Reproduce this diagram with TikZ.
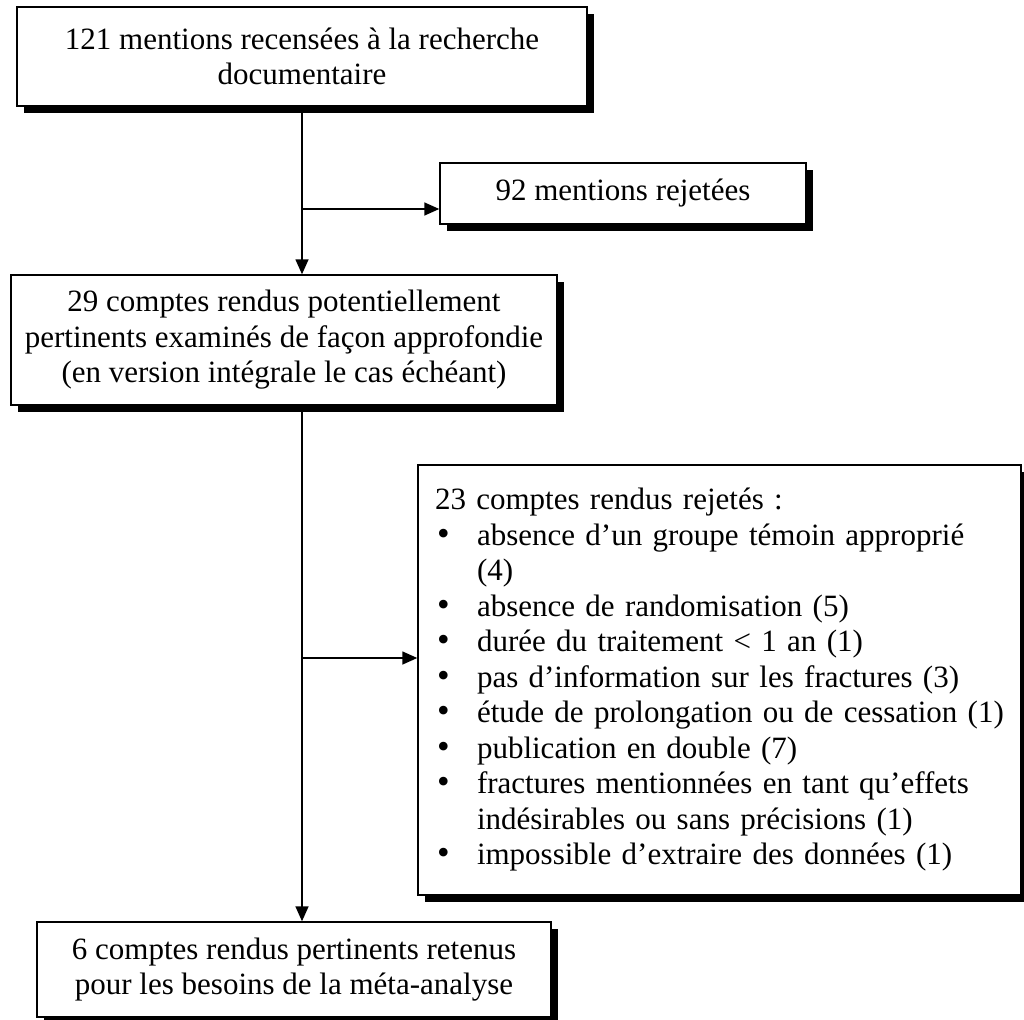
\documentclass[tikz,border=0pt]{standalone}
\usepackage{fontspec}
\setmainfont{Liberation Serif}
\usetikzlibrary{arrows.meta,shadows}
\newcommand{\bul}{\makebox[42pt][l]{\hspace{2pt}{\fontsize{36}{35.5}\selectfont\textbullet}}}
\newcommand{\hang}{\makebox[42pt][l]{}}
\begin{document}
\begin{tikzpicture}[x=1pt,y=-1pt,
  box/.style={draw=black,line width=1.4pt,fill=white,inner sep=0pt,
    drop shadow={shadow xshift=7pt,shadow yshift=-7pt,fill=black,opacity=1},
    font=\fontsize{31}{35.5}\selectfont,align=center},
  conn/.style={line width=1.5pt,-{Triangle[length=15pt,width=13pt]}}]
\useasboundingbox (0,0) rectangle (1024,1019);
\node[box,minimum width=570pt,minimum height=99pt] (b1) at (302,56.5)
  {121 mentions recensées à la recherche\\documentaire};
\node[box,minimum width=366pt,minimum height=61pt] (b2) at (623,193.5)
  {92 mentions rejetées};
\node[box,minimum width=546pt,minimum height=130pt] (b3) at (284,340)
  {29 comptes rendus potentiellement\\pertinents examinés de façon approfondie\\(en version intégrale le cas échéant)};
\node[box,minimum width=603pt,minimum height=430pt,text width=569pt,align=left] (b4) at (719.5,680)
  {23 comptes rendus rejetés :\\
   \bul absence d’un groupe témoin approprié\\
   \hang (4)\\
   \bul absence de randomisation (5)\\
   \bul durée du traitement < 1 an (1)\\
   \bul pas d’information sur les fractures (3)\\
   \bul étude de prolongation ou de cessation (1)\\
   \bul publication en double (7)\\
   \bul fractures mentionnées en tant qu’effets\\
   \hang indésirables ou sans précisions (1)\\
   \bul impossible d’extraire des données (1)};
\node[box,minimum width=514pt,minimum height=95pt] (b5) at (294,969.5)
  {6 comptes rendus pertinents retenus\\pour les besoins de la méta-analyse};
\coordinate (j1) at (302,209);
\coordinate (j2) at (302,658);
\draw[conn] (b1.south -| j1) -- (b3.north -| j1);
\draw[conn] (j1) -- (b2.west |- j1);
\draw[conn] (b3.south -| j1) -- (b5.north -| j1);
\draw[conn] (j2) -- (b4.west |- j2);
\end{tikzpicture}
\end{document}
